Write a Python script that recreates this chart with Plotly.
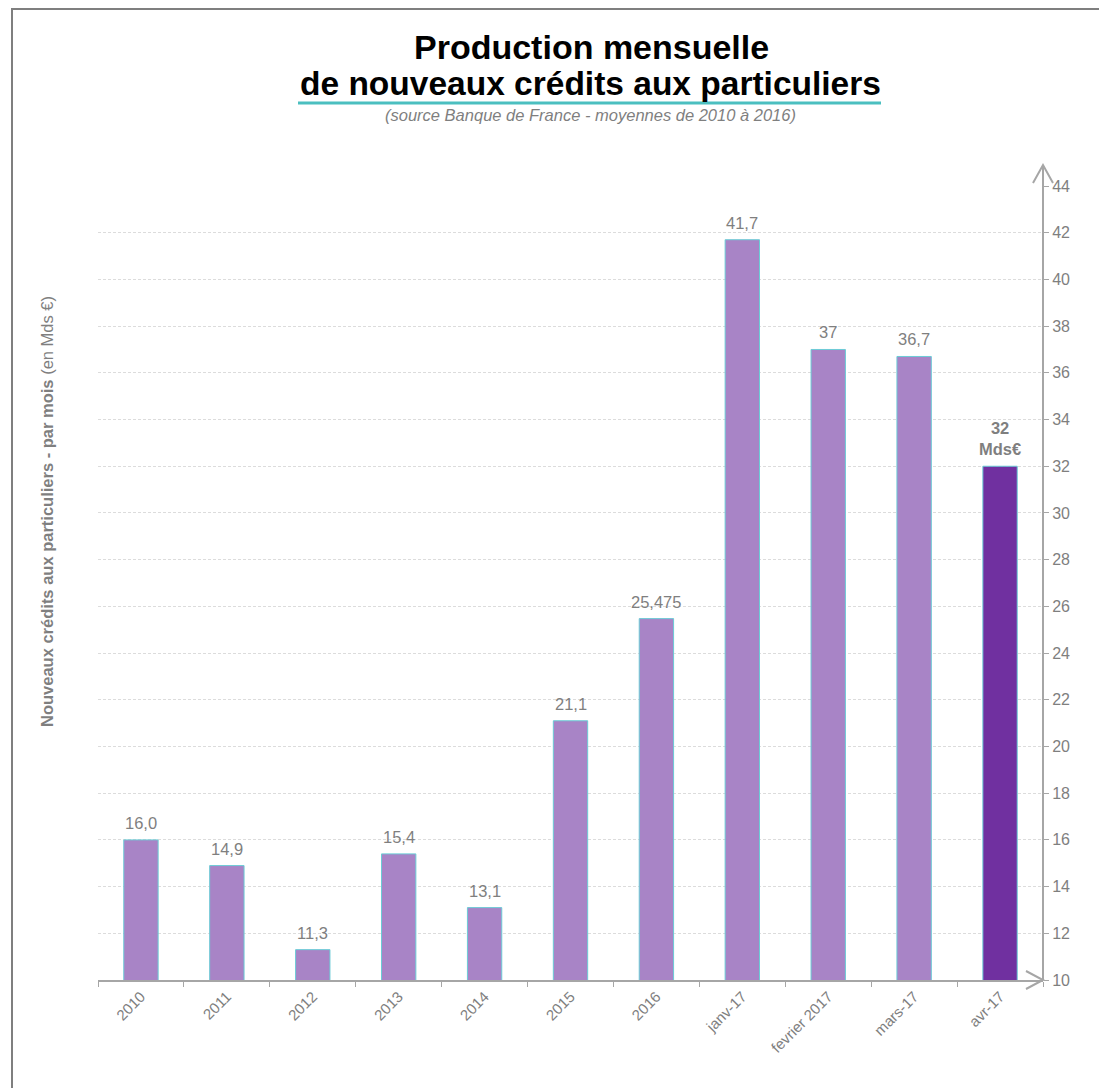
import plotly.graph_objects as go

categories = ["2010", "2011", "2012", "2013", "2014", "2015", "2016",
              "janv-17", "fevrier 2017", "mars-17", "avr-17"]
values = [16.0, 14.9, 11.3, 15.4, 13.1, 21.1, 25.475, 41.7, 37, 36.7, 32]
labels = ["16,0", "14,9", "11,3", "15,4", "13,1", "21,1", "25,475",
          "41,7", "37", "36,7", "<b>32<br>Mds€</b>"]
bar_colors = ["#a884c6"] * 10 + ["#7030a0"]

W, H = 1099, 1088
L, R, T, B = 98, 56, 186, 108
PW, PH = W - L - R, H - T - B


def px(x):
    return (x - L) / PW


def py(y):
    return (H - B - y) / PH


GRAY = "#7f7f7f"
AXIS = "#a6a6a6"
FONT = "Liberation Sans, Arial, sans-serif"

fig = go.Figure()
fig.add_trace(go.Bar(
    x=categories, y=values,
    marker=dict(color=bar_colors, line=dict(color="#6ccbd6", width=1)),
    width=0.4, hoverinfo="x+y",
))

# value labels; on a category axis annotation x is the category index
for i, (v, t) in enumerate(zip(values, labels)):
    fig.add_annotation(x=i, y=v, text=t, showarrow=False, xanchor="center",
                       yanchor="bottom", yshift=6,
                       font=dict(size=16.5, color=GRAY, family=FONT))

fig.update_layout(
    width=W, height=H,
    margin=dict(l=L, r=R, t=T, b=B, autoexpand=False),
    paper_bgcolor="white", plot_bgcolor="white",
    showlegend=False,
    font=dict(family=FONT, color=GRAY),
    xaxis=dict(
        type="category", categoryorder="array", categoryarray=categories,
        range=[-0.5, len(categories) - 0.5],
        tickangle=-45, tickfont=dict(size=15, color=GRAY),
        ticks="outside", ticklen=5, tickcolor=AXIS, tickson="boundaries",
        showline=True, linecolor=AXIS, linewidth=2, showgrid=False,
    ),
    yaxis=dict(
        side="right", range=[10, 44], dtick=2, tick0=10,
        ticks="outside", ticklen=5, tickcolor=AXIS,
        tickfont=dict(size=16, color=GRAY),
        showline=False, zeroline=False,
        showgrid=True, gridcolor="#dcdcdc", griddash="3px,2px", gridwidth=1,
    ),
)

shapes = []
# outer frame
shapes.append(dict(type="path", xref="paper", yref="paper",
                   path=f"M {px(12)} {py(H)} L {px(12)} {py(9)} L {px(W)} {py(9)}",
                   line=dict(color="#7f7f7f", width=2)))
# y axis line with arrow
shapes.append(dict(type="line", xref="paper", yref="paper",
                   x0=px(1043), x1=px(1043), y0=0, y1=py(165),
                   line=dict(color=AXIS, width=2)))
shapes.append(dict(type="path", xref="paper", yref="paper",
                   path=f"M {px(1033)} {py(183)} L {px(1043)} {py(165)} L {px(1053)} {py(183)}",
                   line=dict(color=AXIS, width=2)))
# x axis arrow
shapes.append(dict(type="path", xref="paper", yref="paper",
                   path=f"M {px(1026)} {py(971)} L {px(1043)} {py(980)} L {px(1026)} {py(989)}",
                   line=dict(color=AXIS, width=2)))
# title underline
shapes.append(dict(type="line", xref="paper", yref="paper",
                   x0=px(298), x1=px(881), y0=py(103), y1=py(103),
                   line=dict(color="#4bbfc0", width=3)))
fig.update_layout(shapes=shapes)

fig.add_annotation(text="<b>Production mensuelle</b>", xref="paper", yref="paper",
                   x=px(591), y=py(47), showarrow=False, xanchor="center", yanchor="middle",
                   font=dict(size=34, color="black", family=FONT))
fig.add_annotation(text="<b>de nouveaux crédits aux particuliers</b>", xref="paper", yref="paper",
                   x=px(590), y=py(84), showarrow=False, xanchor="center", yanchor="middle",
                   font=dict(size=33.5, color="black", family=FONT))
fig.add_annotation(text="<i>(source Banque de France - moyennes de 2010 à 2016)</i>",
                   xref="paper", yref="paper", x=px(590), y=py(115), showarrow=False,
                   xanchor="center", yanchor="middle",
                   font=dict(size=16.5, color=GRAY, family=FONT))
fig.add_annotation(text="<b>Nouveaux crédits aux particuliers - par mois</b> (en Mds €)",
                   xref="paper", yref="paper", x=px(47), y=py(512), showarrow=False,
                   textangle=-90, xanchor="center", yanchor="middle",
                   font=dict(size=16.5, color=GRAY, family=FONT))

fig.write_html("out.html")
